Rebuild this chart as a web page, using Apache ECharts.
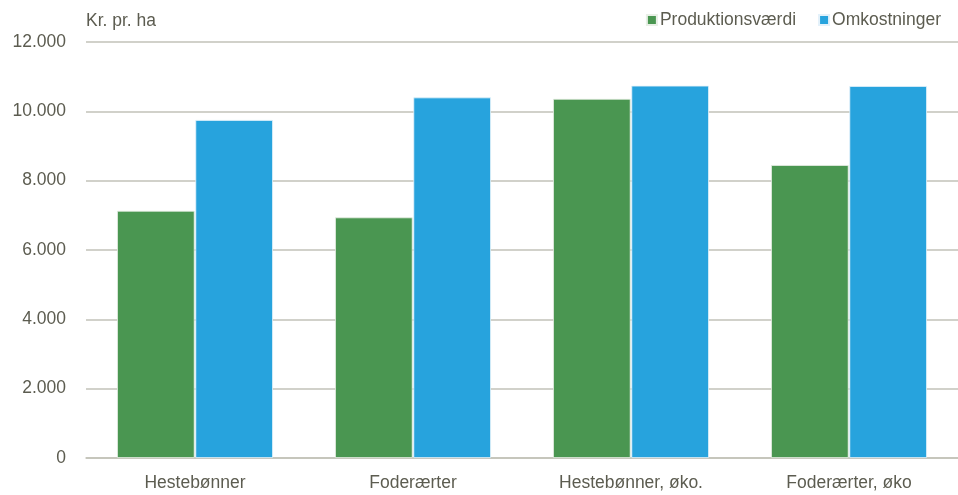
<!DOCTYPE html>
<html>
<head>
<meta charset="utf-8">
<script src="https://cdn.jsdelivr.net/npm/echarts@6/dist/echarts.min.js"></script>
<style>html,body{margin:0;padding:0;background:#fff}#c{width:958px;height:495px}</style>
</head>
<body>
<div id="c"></div>
<script>
const categories = ['Hestebønner', 'Foderærter', 'Hestebønner, øko.', 'Foderærter, øko'];
const produktionsvaerdi = [7130, 6940, 10360, 8450];
const omkostninger = [9750, 10400, 10740, 10730];
const seriesNames = ['Produktionsværdi', 'Omkostninger'];
const yTicks = [0, 2000, 4000, 6000, 8000, 10000, 12000];

const txt = '#5c5c50';
const font = 'Liberation Sans, Arial, sans-serif';
const fmt = v => String(v).replace(/\B(?=(\d{3})+(?!\d))/g, '.');

const chart = echarts.init(document.getElementById('c'));
chart.setOption({
  animation: false,
  backgroundColor: '#fff',
  grid: { left: 86, right: 0, top: 42, bottom: 37, containLabel: false },
  legend: {
    right: 12, top: 6,
    itemWidth: 10, itemHeight: 10, itemGap: 22,
    icon: 'rect',
    textStyle: { color: txt, fontSize: 17.5, fontFamily: font, padding: [0, 0, 0, -2] },
    data: seriesNames
  },
  xAxis: {
    type: 'category',
    data: categories,
    axisTick: { show: false },
    axisLine: { lineStyle: { color: '#c2c2b8', width: 1.5 } },
    axisLabel: { color: txt, fontSize: 17.5, fontFamily: font, margin: 16 }
  },
  yAxis: {
    type: 'value',
    min: yTicks[0], max: yTicks[yTicks.length - 1], interval: 2000,
    name: 'Kr. pr. ha',
    nameLocation: 'end',
    nameGap: 12,
    nameTextStyle: { color: txt, fontSize: 17.5, fontFamily: font, align: 'left', padding: [0, 0, 0, 0] },
    axisLine: { show: false },
    axisTick: { show: false },
    splitLine: { lineStyle: { color: '#c2c2b8', width: 1.5 } },
    axisLabel: { color: txt, fontSize: 17.5, fontFamily: font, margin: 20, formatter: fmt }
  },
  series: [
    {
      name: seriesNames[0], type: 'bar', data: produktionsvaerdi,
      itemStyle: { color: '#4a9651', borderColor: '#e8efe6', borderWidth: 0.8 },
      barCategoryGap: '28.5%', barGap: '1%'
    },
    {
      name: seriesNames[1], type: 'bar', data: omkostninger,
      itemStyle: { color: '#27a3dd', borderColor: '#e3f1fa', borderWidth: 0.8 },
      barCategoryGap: '28.5%', barGap: '1%'
    }
  ]
});
</script>
</body>
</html>
